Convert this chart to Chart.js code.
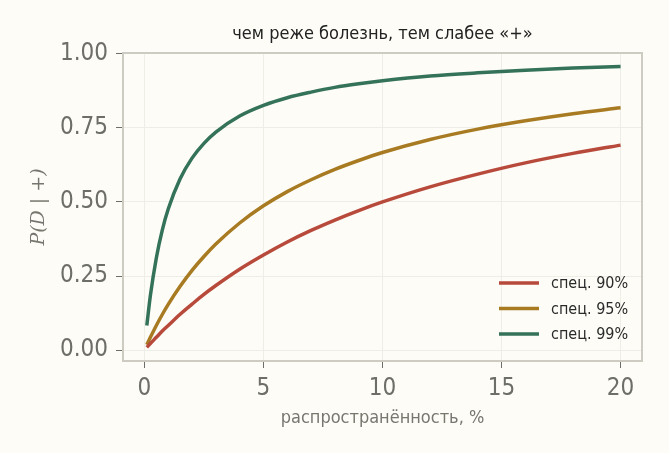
<!DOCTYPE html>
<html>
<head>
<meta charset="utf-8">
<script src="https://cdn.jsdelivr.net/npm/chart.js@4"></script>
<style>
  html, body { margin: 0; padding: 0; background: #fdfcf7; }
  #wrap { width: 669px; height: 453px; }
</style>
</head>
<body>
<div id="wrap"><canvas id="chart" width="669" height="453"></canvas></div>
<script>
// распространённость, %
var prevalence = [0.1, 0.25, 0.5, 0.75, 1, 1.5, 2, 2.5, 3, 4, 5, 6, 7, 8, 9, 10, 12, 14, 16, 18, 20];

// P(D | +) для разной специфичности
var spec90 = [0.009, 0.022, 0.043, 0.064, 0.083, 0.121, 0.155, 0.188, 0.218, 0.273, 0.321, 0.365, 0.404, 0.439, 0.471, 0.500, 0.551, 0.594, 0.632, 0.664, 0.692];
var spec95 = [0.018, 0.043, 0.083, 0.120, 0.154, 0.215, 0.269, 0.316, 0.358, 0.429, 0.487, 0.535, 0.575, 0.610, 0.640, 0.667, 0.711, 0.746, 0.774, 0.798, 0.818];
var spec99 = [0.083, 0.184, 0.311, 0.405, 0.476, 0.578, 0.648, 0.698, 0.736, 0.790, 0.826, 0.852, 0.871, 0.887, 0.899, 0.909, 0.925, 0.936, 0.945, 0.952, 0.957];

var seriesLabels = ['спец. 90%', 'спец. 95%', 'спец. 99%'];
var seriesColors = ['#b84a3c', '#a87b22', '#34725a'];

var xTicks = [0, 5, 10, 15, 20];
var yTicks = [0, 0.25, 0.5, 0.75, 1];

var titleText = 'чем реже болезнь, тем слабее «+»';
var xTitle = 'распространённость, %';
var yTitle = 'P(D | +)';

var FONT = '"Liberation Sans Narrow", "DejaVu Sans Condensed", "Noto Sans", sans-serif';

function toPoints(ys) {
    return prevalence.map(function(x, i) { return { x: x, y: ys[i] }; });
}

// рамка, заголовок и легенда внутри области графика
var decorPlugin = {
    id: 'decor',
    beforeDatasetsDraw: function(chart) {
        var ctx = chart.ctx;
        var a = chart.chartArea;
        ctx.save();
        ctx.strokeStyle = '#cdcbc2';
        ctx.lineWidth = 2;
        ctx.strokeRect(a.left, a.top, a.right - a.left, a.bottom - a.top);
        ctx.restore();
    },
    afterDraw: function(chart) {
        var ctx = chart.ctx;
        var a = chart.chartArea;
        ctx.save();
        ctx.fillStyle = '#222222';
        ctx.font = '18px ' + FONT;
        ctx.textAlign = 'center';
        ctx.textBaseline = 'middle';
        ctx.fillText(titleText, (a.left + a.right) / 2, 34);

        ctx.font = '16px ' + FONT;
        ctx.textAlign = 'left';
        for (var i = 0; i < seriesLabels.length; i++) {
            var y = 283 + i * 25.5;
            ctx.strokeStyle = seriesColors[i];
            ctx.lineWidth = 3.5;
            ctx.beginPath();
            ctx.moveTo(499, y);
            ctx.lineTo(539, y);
            ctx.stroke();
            ctx.fillStyle = '#2a2a2a';
            ctx.fillText(seriesLabels[i], 551, y + 1);
        }
        ctx.restore();
    }
};

var ctx = document.getElementById('chart').getContext('2d');

new Chart(ctx, {
    type: 'line',
    data: {
        datasets: [spec90, spec95, spec99].map(function(ys, i) {
            return {
                label: seriesLabels[i],
                data: toPoints(ys),
                borderColor: seriesColors[i],
                borderWidth: 3.5,
                pointRadius: 0,
                fill: false,
                cubicInterpolationMode: 'monotone'
            };
        })
    },
    options: {
        responsive: false,
        animation: false,
        layout: {
            padding: { top: 53, right: 27, left: 0, bottom: 0 }
        },
        plugins: {
            legend: { display: false },
            title: { display: false },
            tooltip: { enabled: false }
        },
        scales: {
            x: {
                type: 'linear',
                min: -0.9,
                max: 20.9,
                afterBuildTicks: function(scale) {
                    scale.ticks = xTicks.map(function(v) { return { value: v }; });
                },
                afterFit: function(scale) { scale.height = 92; },
                grid: {
                    color: '#eeede6',
                    lineWidth: 1,
                    tickColor: '#6e6e68',
                    tickLength: 7,
                    drawTicks: true
                },
                border: { display: false },
                ticks: {
                    color: '#6e6e68',
                    padding: 6,
                    maxRotation: 0,
                    font: { family: FONT, size: 24 },
                    callback: function(v) { return String(v); }
                },
                title: {
                    display: true,
                    text: xTitle,
                    color: '#77776f',
                    font: { family: FONT, size: 18 },
                    padding: { top: 0, bottom: 24 }
                }
            },
            y: {
                type: 'linear',
                min: -0.037,
                max: 1.003,
                afterBuildTicks: function(scale) {
                    scale.ticks = yTicks.map(function(v) { return { value: v }; });
                },
                afterFit: function(scale) { scale.width = 123; },
                grid: {
                    color: '#eeede6',
                    lineWidth: 1,
                    tickColor: '#6e6e68',
                    tickLength: 7,
                    drawTicks: true
                },
                border: { display: false },
                ticks: {
                    color: '#6e6e68',
                    padding: 8,
                    font: { family: FONT, size: 24 },
                    callback: function(v) { return v.toFixed(2); }
                },
                title: {
                    display: true,
                    text: yTitle,
                    color: '#77776f',
                    font: { family: '"DejaVu Serif", serif', size: 19, style: 'italic' },
                    padding: { top: 28, bottom: 0 }
                }
            }
        }
    },
    plugins: [decorPlugin]
});
</script>
</body>
</html>
